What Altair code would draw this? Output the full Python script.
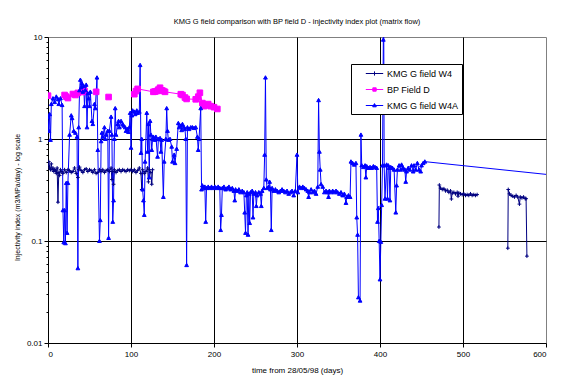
import altair as alt
import pandas as pd

FONT = "Liberation Sans"

series_names = ["KMG G field W4", "BP Field D", "KMG G field W4A"]
series_colors = ["#000080", "#FF00FF", "#0000FF"]

# KMG G field W4 (three separate runs)
w4_seg1_days = [0, 1, 2, 3, 4, 5, 6, 7, 8, 9, 10, 11, 12, 13, 14, 15, 16, 18, 20, 22, 24, 26, 28, 30, 32, 34, 36, 37, 38,
                40, 42, 44, 46, 48, 50, 52, 54, 56, 58, 60, 62, 64, 66, 68, 70, 72, 74, 76, 77, 78, 79, 80, 82, 84, 86,
                88, 90, 92, 94, 96, 98, 100, 102, 104, 106, 108, 110, 112, 113, 114, 116, 118, 120, 121, 122, 124, 125, 126]
w4_seg1_vals = [0.55, 0.6, 0.52, 0.5, 0.57, 0.5, 0.52, 0.48, 0.5, 0.49, 0.46, 0.52, 0.24, 0.47, 0.44, 0.5, 0.48, 0.46,
                0.5, 0.47, 0.5, 0.49, 0.47, 0.48, 0.52, 0.46, 0.42, 0.5, 0.53, 0.49, 0.47, 0.5, 0.51, 0.48, 0.5, 0.49,
                0.47, 0.5, 0.46, 0.47, 0.5, 0.48, 0.5, 0.47, 0.49, 0.5, 0.48, 0.52, 0.4, 0.48, 0.36, 0.5, 0.47, 0.49,
                0.5, 0.48, 0.5, 0.49, 0.48, 0.5, 0.49, 0.5, 0.48, 0.5, 0.47, 0.49, 0.52, 0.46, 0.32, 0.5, 0.46, 0.48,
                0.52, 0.38, 0.5, 0.47, 0.36, 0.5]
w4_seg2_days = [471, 471.5, 473, 475, 477, 479, 481, 483, 485, 486, 487, 489, 491, 493, 494, 495, 497, 499, 501, 503,
                505, 507, 509, 511, 513, 515, 517]
w4_seg2_vals = [0.137, 0.354, 0.33, 0.32, 0.325, 0.31, 0.315, 0.3, 0.31, 0.258, 0.295, 0.3, 0.29, 0.3, 0.275, 0.295,
                0.29, 0.285, 0.29, 0.28, 0.285, 0.28, 0.29, 0.28, 0.285, 0.28, 0.285]
w4_seg3_days = [554, 554.5, 556, 558, 560, 562, 564, 566, 568, 569, 571, 573, 575, 576, 577]
w4_seg3_vals = [0.085, 0.32, 0.29, 0.28, 0.275, 0.27, 0.28, 0.27, 0.23, 0.27, 0.265, 0.27, 0.26, 0.26, 0.071]

# BP Field D
bp_single_days = [0, 20, 22, 24, 30, 33, 36, 42, 44, 58, 73]
bp_single_vals = [2.66, 2.7, 2.6, 2.52, 2.76, 2.7, 2.83, 2.89, 2.95, 2.9, 2.58]
bp_run_days = [104, 106, 108, 127, 129, 131, 133, 135, 137, 139, 141, 160, 162, 165, 167, 178, 181, 183, 186, 188,
               190, 193, 196, 200, 204]
bp_run_vals = [2.75, 2.95, 3.1, 2.9, 2.92, 2.95, 3.05, 3.18, 3.0, 2.96, 2.9, 2.75, 2.7, 2.55, 2.47, 2.45, 2.6, 2.84,
               2.25, 2.1, 2.15, 2.2, 2.1, 2.05, 1.97]

# KMG G field W4A
w4a_days = [0, 1, 2, 3, 4, 6, 8, 10, 12, 13, 15, 17, 18, 19, 20, 21, 22, 23, 24, 26, 28, 29, 31, 33, 35, 36, 37,
            38, 39, 40, 41, 42, 43, 44, 45, 46, 47, 48, 49, 50, 51, 53, 54, 56, 57, 59, 60, 62, 63, 64, 65, 66, 68,
            69, 70, 72, 73, 74, 76, 77, 78, 79, 80, 81, 82, 84, 85, 86, 88, 90, 91, 93, 94, 96, 97, 98,
            99, 100, 101, 102, 104, 105, 107, 108, 110, 111, 112, 113, 114, 115, 116, 117, 119, 120, 121, 122, 123,
            124, 125, 126, 127, 129, 130, 132, 133, 135, 136, 137, 139, 140, 142, 143, 144, 145, 147, 149, 150,
            152, 153, 155, 157, 158, 160, 161, 162, 164, 165, 166, 167, 168, 170, 172, 174, 176, 178, 180, 181,
            182, 184, 185, 186, 187, 189, 190, 191, 193, 195, 197, 199, 201, 203, 205, 207, 208, 209, 210, 212,
            214, 216, 218, 220, 222, 224, 225, 226, 228, 230, 232, 234, 236, 237, 238, 239, 240, 241, 242, 243,
            244, 246, 247, 248, 250, 251, 252, 254, 256, 257, 258, 260, 261, 262, 263, 264, 266, 267, 268, 269,
            270, 272, 274, 276, 278, 280, 282, 284, 286, 288, 290, 292, 294, 296, 298, 300, 301, 303, 305, 307,
            309, 311, 313, 314, 315, 317, 319, 321, 323, 325, 326, 327, 328, 329, 331, 333, 335, 337, 338, 339,
            341, 343, 345, 347, 349, 351, 353, 355, 357, 359, 360, 362, 364, 365, 367, 369, 371, 372, 373, 374,
            376, 377, 378, 380, 382, 383, 384, 386, 388, 390, 392, 394, 396, 397, 398, 399, 400, 401, 402, 403,
            404, 404.5, 405, 406, 408, 409, 410, 411, 412, 413, 415, 417, 419, 420, 421, 423, 425, 426, 428, 430,
            431, 432, 434, 436, 438, 440, 441, 443, 445, 447, 449, 450, 452, 454, 600]
w4a_vals = [1.65, 1.2, 1.75, 0.98, 2.2, 2.5, 2.3, 2.6, 2.45, 2.2, 2.5, 2.15, 0.2, 0.097, 0.2, 0.095, 0.37, 0.12, 0.37,
            1.1, 1.7, 1.6, 1.2, 1.15, 1.05, 0.054, 1.3,
            3.0, 3.8, 3.2, 3.5, 2.9, 3.3, 2.1, 3.0, 3.4, 1.3, 2.8, 2.5, 2.1, 2.9, 1.5, 1.4, 2.2, 2.0, 4.0, 0.78, 0.1,
            0.16, 0.95, 1.15, 1.05, 1.3, 1.0, 1.1, 1.2, 0.107, 1.2, 1.65, 1.1, 0.154, 0.25, 1.0, 2.0, 1.1, 1.4, 1.5,
            1.3, 1.5, 1.4, 1.35, 1.3, 1.2, 1.25, 1.17, 1.3,
            1.8, 0.82, 1.7, 1.9, 1.85, 1.75, 1.9, 1.8, 1.85, 5.3, 0.73, 1.0, 0.32, 0.25, 0.18, 0.6, 1.8, 0.75, 1.4,
            0.42, 1.5, 1.1, 0.78, 1.0, 1.05, 0.98, 1.05, 0.67, 1.0, 1.02, 0.75, 0.98, 0.27, 0.6, 1.0, 2.0, 1.2, 0.98,
            1.0, 0.84, 0.6, 0.7, 0.58, 0.8, 1.43, 1.3, 1.35, 1.22, 1.4, 1.3, 1.25, 1.0, 0.058, 1.3, 1.25, 1.3, 1.3,
            1.28, 1.3, 1.05, 0.78, 1.0, 2.0, 0.32, 0.35, 0.33, 0.34, 0.154, 0.33, 0.34, 0.33, 0.34, 0.33, 0.34, 0.33,
            0.34, 0.33, 0.128, 0.18, 0.33, 0.34, 0.32, 0.33, 0.34, 0.32, 0.33, 0.31, 0.25, 0.32, 0.31, 0.32, 0.3,
            0.31, 0.3, 0.19, 0.12, 0.28, 0.3, 0.115, 0.29, 0.15, 0.3, 0.31, 0.17, 0.29, 0.3, 0.22, 0.28, 0.3, 0.29,
            0.22, 0.31, 0.33, 0.7, 4.0, 0.4, 0.33, 0.34, 0.38, 0.32, 0.128, 0.33, 0.31, 0.32, 0.31, 0.3, 0.31, 0.32,
            0.31, 0.3, 0.31, 0.29, 0.3, 0.31, 0.28, 0.31, 0.7, 0.3, 0.34, 0.33, 0.34, 0.33, 0.32, 0.31, 0.27, 0.3,
            0.32, 0.3, 0.31, 0.29, 0.34, 2.4, 0.75, 0.5, 0.36, 0.34, 0.3, 0.31, 0.3, 0.27, 0.31, 0.3, 0.31, 0.3,
            0.31, 0.3, 0.29, 0.3, 0.28, 0.29, 0.236, 0.27, 0.28, 0.27, 0.6, 0.58, 0.56, 0.58, 0.17, 0.115, 0.028,
            0.026, 1.1, 0.55, 0.53, 0.55, 0.42, 0.54, 0.52, 0.53, 0.52, 0.54, 0.53, 0.52, 0.154, 0.21, 0.1, 0.042,
            0.098, 0.225, 0.55, 9.4, 13.0, 0.55, 0.26, 0.56, 0.26, 0.55, 0.52, 0.25, 0.53, 0.52, 0.5, 0.19, 0.35,
            0.5, 0.55, 0.5, 0.56, 0.52, 0.5, 0.38, 0.48, 0.52, 0.5, 0.55, 0.48, 0.55, 0.5, 0.58, 0.5, 0.48, 0.55,
            0.58, 0.6, 0.45]

x_ticks = [0, 100, 200, 300, 400, 500, 600]
y_ticks = [round(m * d, 6) for d in [0.01, 0.1, 1] for m in range(1, 10)] + [10]

rows = []
def add(name, seg, days, vals):
    for d, v in zip(days, vals):
        rows.append({"series": name, "seg": seg, "day": d, "value": v})

add(series_names[0], "w4a", w4_seg1_days, w4_seg1_vals)
add(series_names[0], "w4b", w4_seg2_days, w4_seg2_vals)
add(series_names[0], "w4c", w4_seg3_days, w4_seg3_vals)
for i, (d, v) in enumerate(zip(bp_single_days, bp_single_vals)):
    add(series_names[1], f"bp{i}", [d], [v])
add(series_names[1], "bprun", bp_run_days, bp_run_vals)
add(series_names[2], "w4A", w4a_days, w4a_vals)
df = pd.DataFrame(rows)

marker_paths = ["M-1,0H1M0,-1V1", "M-1.5,-1.5H1.5V1.5H-1.5Z", "M-1,0.8L0,-1L1,0.8Z"]
legend_paths = ["M-1.45,0H1.45M0,-0.35V0.35",
                "M-1.45,0H1.45M-0.28,-0.28H0.28V0.28H-0.28Z",
                "M-1.45,0H1.45M-0.3,0.22L0,-0.32L0.3,0.22Z"]

xenc = alt.X("day:Q", scale=alt.Scale(domain=[0, 600], nice=False, zero=False),
             axis=alt.Axis(values=x_ticks, title="time from 28/05/98 (days)", grid=True,
                           gridColor={"condition": {"test": "datum.value > 0 && datum.value < 600", "value": "black"},
                                      "value": "transparent"},
                           gridWidth=1, tickSize=4, labelPadding=3, labelFontSize=8, titleFontSize=8,
                           titleX=249, titleY=27, titleBaseline="middle", titleAlign="center"))
yenc = alt.Y("value:Q", scale=alt.Scale(type="log", domain=[0.01, 10], nice=False),
             axis=alt.Axis(values=y_ticks, format="~g", labelOverlap=False,
                           labelExpr="datum.value == 0.01 || datum.value == 0.1 || datum.value == 1 || datum.value == 10 ? datum.label : ''",
                           title="Injectivity index (m3/MPa/day) - log scale", grid=True,
                           gridColor={"condition": {"test": "datum.value == 0.1 || datum.value == 1", "value": "black"},
                                      "value": "transparent"},
                           tickSize={"condition": {"test": "datum.value == 0.01 || datum.value == 0.1 || datum.value == 1 || datum.value == 10", "value": 4},
                                     "value": 2},
                           labelPadding=2, labelFontSize=8, titleFontSize=7,
                           titleAngle=270, titleX=-31, titleY=160, titleBaseline="middle", titleAlign="center"))

lines = alt.Chart(df).mark_line(strokeWidth=1, clip=True).encode(
    x=xenc, y=yenc,
    color=alt.Color("series:N", scale=alt.Scale(domain=series_names, range=series_colors), legend=None),
    detail="seg:N",
    order="day:Q",
)

points = alt.Chart(df).transform_filter("datum.day < 600").mark_point(
    filled=True, clip=True, strokeWidth=1, size=14, opacity=1).encode(
    x="day:Q", y="value:Q",
    fill=alt.Fill("series:N", scale=alt.Scale(domain=series_names, range=series_colors), legend=None),
    stroke=alt.Stroke("series:N", scale=alt.Scale(domain=series_names, range=series_colors), legend=None),
    shape=alt.Shape("series:N", scale=alt.Scale(domain=series_names, range=marker_paths), legend=None),
)

leg = alt.Legend(orient="none", legendX=303, legendY=27, title=None, strokeColor="black", fillColor="white",
                 padding=3, symbolSize=144, symbolStrokeWidth=1, labelFontSize=9, labelFont=FONT,
                 rowPadding=4, labelOffset=6, symbolOffset=14, symbolOpacity=1, cornerRadius=0)
legend_df = pd.DataFrame({"series": series_names})
legend_layer = alt.Chart(legend_df).mark_point(filled=True, clip=True, strokeWidth=1).encode(
    x=alt.value(-40), y=alt.value(-40),
    fill=alt.Fill("series:N", scale=alt.Scale(domain=series_names, range=series_colors), legend=leg),
    stroke=alt.Stroke("series:N", scale=alt.Scale(domain=series_names, range=series_colors), legend=leg),
    shape=alt.Shape("series:N", scale=alt.Scale(domain=series_names, range=legend_paths), legend=leg),
)

chart = alt.layer(lines, points, legend_layer).resolve_scale(
    fill="independent", stroke="independent", shape="independent"
).properties(
    width=498, height=306,
    autosize=alt.AutoSizeParams(type="none"),
    padding={"left": 40, "top": 29, "right": 22, "bottom": 37},
    background="white",
    title=alt.TitleParams("KMG G field comparison with BP field D - injectivity index plot (matrix flow)",
                          font=FONT, fontSize=7.5, fontWeight="normal", color="black",
                          anchor="middle", baseline="middle", offset=4),
).configure_view(stroke="#808080", strokeWidth=1).configure_axis(
    domainColor="black", tickColor="black", labelColor="black", titleColor="black",
    labelFont=FONT, titleFont=FONT, titleFontWeight="normal", domainWidth=1
)

chart.save("out.html", embed_options={"renderer": "svg", "actions": False})
